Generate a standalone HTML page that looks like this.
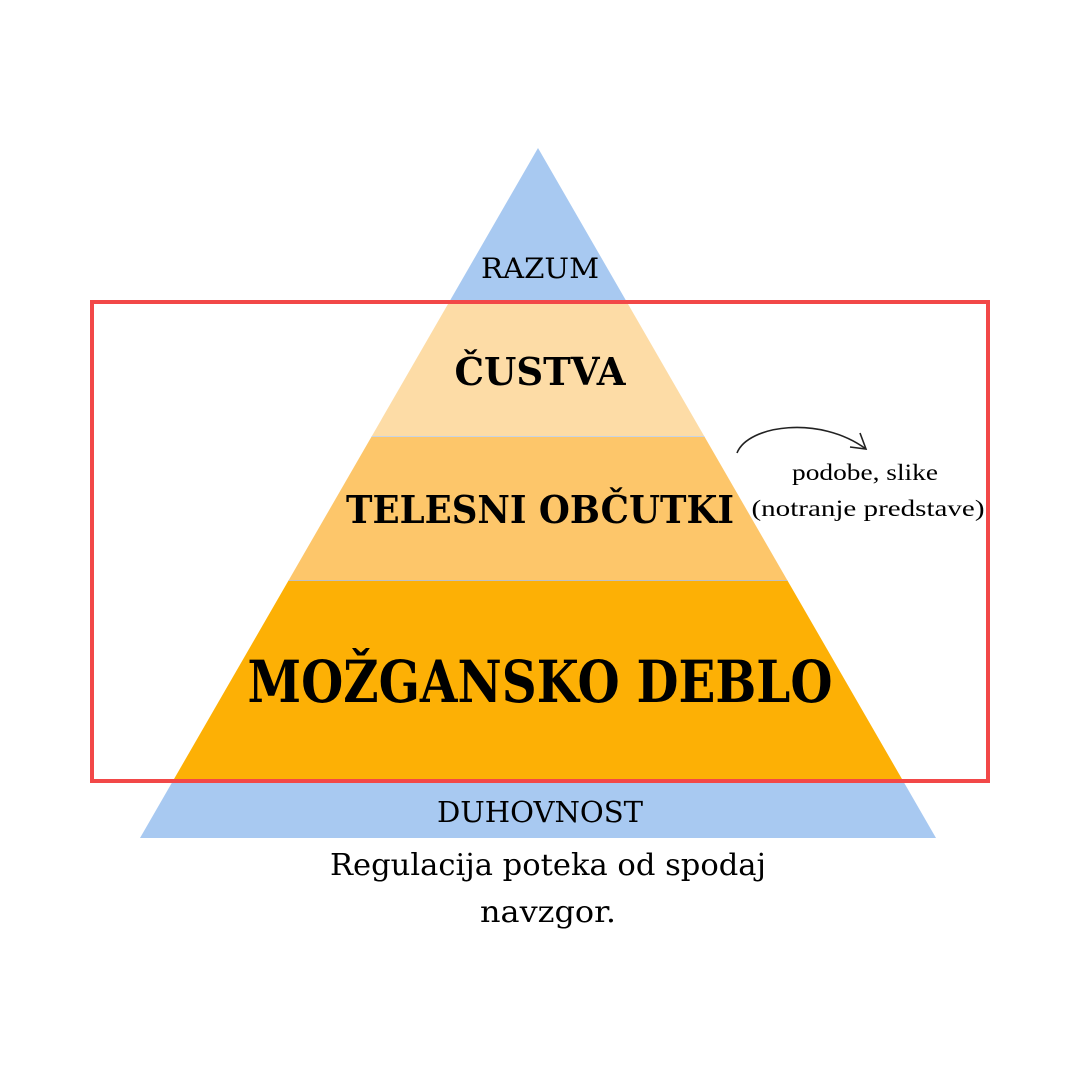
<!DOCTYPE html>
<html><head><meta charset="utf-8"><style>
html,body{margin:0;padding:0;background:#fff}
svg{display:block}
</style></head><body>
<svg width="1080" height="1078" viewBox="0 0 1080 1078" xmlns="http://www.w3.org/2000/svg">
<defs><clipPath id="tri"><polygon points="538,148 140,838 936,838"/></clipPath></defs>
<g clip-path="url(#tri)">
<rect x="0" y="140" width="1080" height="162" fill="#a8c9f1"/>
<rect x="0" y="302" width="1080" height="134" fill="#fddca6"/>
<rect x="0" y="436" width="1080" height="144" fill="#fdc66a"/>
<rect x="0" y="580" width="1080" height="200" fill="#fdb005"/>
<rect x="0" y="780" width="1080" height="60" fill="#a8c9f1"/>
<line x1="0" y1="436.5" x2="1080" y2="436.5" stroke="#c8d4e4" stroke-width="1"/>
<line x1="0" y1="580.5" x2="1080" y2="580.5" stroke="#c0c0c0" stroke-width="1"/>
</g>
<rect x="92" y="302" width="896" height="479" fill="none" stroke="#f24848" stroke-width="4"/>
<g font-family="'DejaVu Serif','Liberation Serif',serif" fill="#000" text-anchor="middle">
<text x="540" y="278" font-size="28" textLength="118" lengthAdjust="spacingAndGlyphs">RAZUM</text>
<text x="540" y="385" font-size="38" font-weight="bold" textLength="171" lengthAdjust="spacingAndGlyphs">ČUSTVA</text>
<text x="540" y="523" font-size="38" font-weight="bold" textLength="388" lengthAdjust="spacingAndGlyphs">TELESNI OBČUTKI</text>
<text x="540" y="702" font-size="58" font-weight="bold" textLength="585" lengthAdjust="spacingAndGlyphs">MOŽGANSKO DEBLO</text>
<text x="540" y="822" font-size="29" textLength="206" lengthAdjust="spacingAndGlyphs">DUHOVNOST</text>
<text x="548" y="875" font-size="30" textLength="436" lengthAdjust="spacingAndGlyphs">Regulacija poteka od spodaj</text>
<text x="548" y="922" font-size="30" textLength="136" lengthAdjust="spacingAndGlyphs">navzgor.</text>
</g>
<g font-family="'Liberation Serif',serif" fill="#000" text-anchor="middle">
<text x="865" y="480" font-size="23" textLength="146" lengthAdjust="spacingAndGlyphs">podobe, slike</text>
<text x="868" y="516" font-size="23" textLength="233" lengthAdjust="spacingAndGlyphs">(notranje predstave)</text>
</g>
<path d="M737,453 C748,425 820,415 866,449" fill="none" stroke="#222" stroke-width="1.6"/>
<path d="M860,433 L866,449 L850,447" fill="none" stroke="#222" stroke-width="1.6"/>
</svg>
</body></html>
